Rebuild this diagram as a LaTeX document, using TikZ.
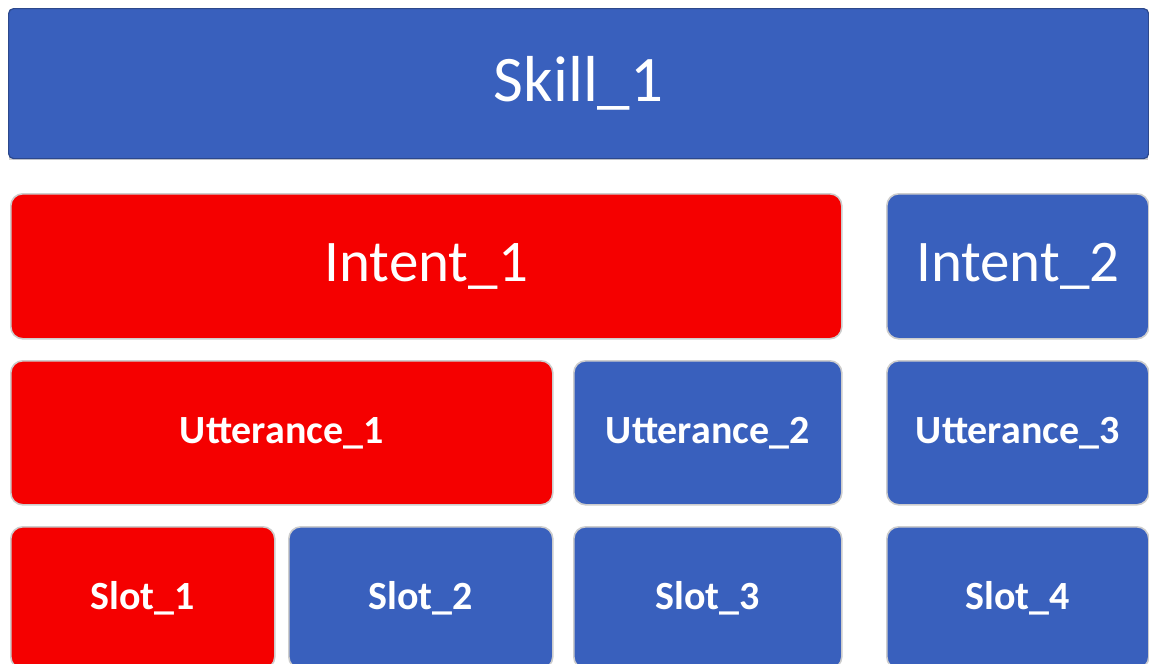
\documentclass[tikz,border=0pt]{standalone}
\usepackage{fontspec}
\setmainfont{Carlito}
\definecolor{boxblue}{RGB}{57,96,189}
\definecolor{boxred}{RGB}{245,0,0}
\definecolor{skillborder}{RGB}{44,72,140}
\definecolor{lightedge}{RGB}{205,205,205}
\tikzset{
  skillbox/.style={rectangle, rounded corners=5pt, fill=boxblue, draw=skillborder, line width=1.2pt,
    text=white, font=\fontsize{65}{70}\selectfont, anchor=north west, inner sep=0pt},
  tile/.style={rectangle, rounded corners=12pt, draw=lightedge, line width=1.6pt,
    text=white, anchor=north west, inner sep=0pt},
  bluetile/.style={tile, fill=boxblue},
  redtile/.style={tile, fill=boxred},
  bigtext/.style={font=\fontsize{59}{64}\selectfont},
  smalltext/.style={font=\bfseries\fontsize{40}{44}\selectfont}
}
\begin{document}
\begin{tikzpicture}[x=1pt,y=-1pt]
\useasboundingbox (0,0) rectangle (1149,664);
\clip (0,0) rectangle (1149,664);
\fill[gray!35] (9,11) rectangle (1148,160);
\node[skillbox, minimum width=1140pt, minimum height=150pt] (skill) at (8,8) {Skill\_1};
\node[redtile, bigtext, minimum width=831pt, minimum height=145pt] (intA) at (10,193) {Intent\_1};
\node[bluetile, bigtext, minimum width=262pt, minimum height=145pt] (intB) at (886,193) {Intent\_2};
\node[redtile, smalltext, minimum width=542pt, minimum height=144pt] (uttA) at (10,360) {Utterance\_1};
\node[bluetile, smalltext, minimum width=268pt, minimum height=144pt] (uttB) at (573,360) {Utterance\_2};
\node[bluetile, smalltext, minimum width=262pt, minimum height=144pt] (uttC) at (886,360) {Utterance\_3};
\node[redtile, smalltext, minimum width=264pt, minimum height=142pt] (slotA) at (10,526) {Slot\_1};
\node[bluetile, smalltext, minimum width=264pt, minimum height=142pt] (slotB) at (288,526) {Slot\_2};
\node[bluetile, smalltext, minimum width=268pt, minimum height=142pt] (slotC) at (573,526) {Slot\_3};
\node[bluetile, smalltext, minimum width=262pt, minimum height=142pt] (slotD) at (886,526) {Slot\_4};
\end{tikzpicture}
\end{document}
